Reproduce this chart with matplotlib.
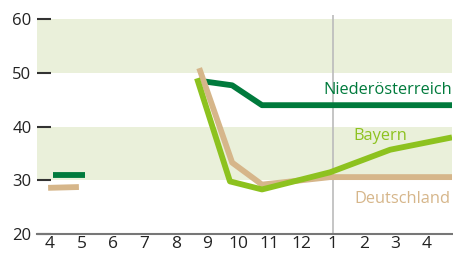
import matplotlib
matplotlib.use("Agg")
import matplotlib.pyplot as plt

plt.rcParams['font.family'] = ['Open Sans', 'DejaVu Sans']

month_labels = ["4", "5", "6", "7", "8", "9", "10", "11", "12", "1", "2", "3", "4"]

# early short segments
noe_early_x = [0.1, 1.11]
noe_early_y = [31.0, 31.0]
de_early_x = [-0.06, 0.92]
de_early_y = [28.6, 28.75]

noe_x = [4.94, 5.8, 6.75, 8.92, 10.83, 12.8]
noe_y = [48.4, 47.7, 44.0, 44.0, 44.0, 44.0]

by_x = [4.68, 5.73, 6.75, 8.92, 10.83, 12.8]
by_y = [49.0, 29.8, 28.3, 31.5, 35.7, 38.0]

de_x = [4.75, 5.8, 6.75, 8.92, 10.83, 12.8]
de_y = [50.9, 33.3, 29.2, 30.6, 30.6, 30.6]

c_noe = "#007A3C"
c_by = "#8DC21F"
c_de = "#D6B68A"
c_band = "#EAF0DA"

fig = plt.figure(figsize=(4.53, 2.54), dpi=100)
ax = fig.add_axes([37/453, 20/254, (452-37)/453, (234-15)/254])
ax.set_xlim(-0.414, 12.8)
ax.set_ylim(20, 60.8)

for lo, hi in [(30, 40), (50, 60)]:
    ax.axhspan(lo, hi, color=c_band, lw=0, zorder=0)

ax.axvline(9, color="#BBBBBB", lw=1.2, zorder=1)

lw = 4.2
ax.plot(noe_early_x, noe_early_y, color=c_noe, lw=lw, solid_capstyle='butt', zorder=3)
ax.plot(de_early_x, de_early_y, color=c_de, lw=lw, solid_capstyle='butt', zorder=3)
ax.plot(noe_x, noe_y, color=c_noe, lw=lw, solid_capstyle='butt', zorder=3)
ax.plot(de_x, de_y, color=c_de, lw=lw, solid_capstyle='butt', zorder=3)
ax.plot(by_x, by_y, color=c_by, lw=lw, solid_capstyle='butt', zorder=4)

lab_font = dict(fontsize=11.8, fontweight='medium')
ax.text(12.8, 46.0, "Niederösterreich", color=c_noe, ha='right', va='baseline', **lab_font)
ax.text(10.51, 37.5, "Bayern", color=c_by, ha='center', va='baseline', **lab_font)
ax.text(11.23, 25.8, "Deutschland", color=c_de, ha='center', va='baseline', **lab_font)

for s in ['top', 'right', 'left']:
    ax.spines[s].set_visible(False)
ax.spines['bottom'].set_color("#777777")
ax.spines['bottom'].set_linewidth(1.5)

ax.set_yticks([20, 30, 40, 50, 60])
ax.set_yticklabels(["20", "30", "40", "50", "60"])
ax.tick_params(axis='y', direction='in', length=10, width=1.5, color="#333333",
               pad=4, labelsize=12, labelcolor="#222222")
ax.set_xticks(range(13))
ax.set_xticklabels(month_labels)
ax.tick_params(axis='x', length=0, pad=1.5, labelsize=12.5, labelcolor="#222222")

fig.savefig("out.png", dpi=100)
